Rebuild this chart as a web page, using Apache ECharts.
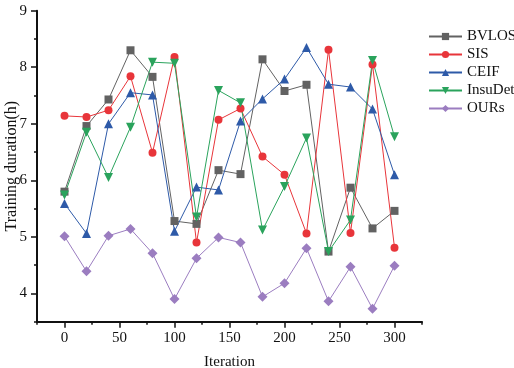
<!DOCTYPE html>
<html>
<head>
<meta charset="utf-8">
<script src="https://cdn.jsdelivr.net/npm/echarts@6/dist/echarts.min.js"></script>
<style>html,body{margin:0;padding:0;background:#fff}#c{width:514px;height:368px}</style>
</head>
<body>
<div id="c"></div>
<script>
const iterations = [0,20,40,60,80,100,120,140,160,180,200,220,240,260,280,300];
const BVLOS   = [5.80,6.96,7.43,8.30,7.83,5.28,5.23,6.18,6.11,8.14,7.58,7.69,4.74,5.87,5.15,5.46];
const SIS     = [7.14,7.12,7.24,7.84,6.49,8.18,4.90,7.07,7.27,6.42,6.10,5.06,8.31,5.07,8.05,4.81];
const CEIF    = [5.59,5.06,7.00,7.55,7.51,5.10,5.88,5.83,7.05,7.44,7.79,8.35,7.70,7.65,7.26,6.10];
const InsuDet = [5.74,6.85,6.05,6.94,8.09,8.07,5.35,7.59,7.37,5.12,5.89,6.75,4.74,5.30,8.12,6.77];
const OURs    = [5.01,4.39,5.02,5.14,4.71,3.90,4.62,4.99,4.90,3.94,4.18,4.80,3.86,4.47,3.73,4.49];
const xTicks = [0,50,100,150,200,250,300];
const yTicks = [4,5,6,7,8,9];

const font = 'Liberation Serif, Times New Roman, serif';
const pairs = arr => arr.map((v,i)=>[iterations[i], v]);
function mk(name, data, color, symbol, size, rot){
  return {name, type:'line', data: pairs(data), symbol, symbolSize:size, symbolRotate: rot||0,
    lineStyle:{width:1, color}, itemStyle:{color}, emphasis:{disabled:true}};
}
const chart = echarts.init(document.getElementById('c'), null, {renderer:'canvas'});
chart.setOption({
  animation:false,
  textStyle:{fontFamily:font},
  grid:{left:37, right:92, top:10.7, bottom:46.3, containLabel:false, outerBoundsMode:'none'},
  legend:{orient:'vertical', left:428, top:29, padding:0, itemWidth:33, itemHeight:9, itemGap:3,
    textStyle:{fontFamily:font, fontSize:15, color:'#111', lineHeight:14},
    data:['BVLOS','SIS','CEIF','InsuDet','OURs']},
  xAxis:[
    {type:'value', min:-25, max:325, interval:25, position:'bottom',
     axisLine:{show:true, onZero:false, lineStyle:{color:'#111', width:2}},
     axisTick:{show:true, length:3, lineStyle:{color:'#111', width:1.5}},
     axisLabel:{show:false}, splitLine:{show:false},
     name:'Iteration', nameLocation:'middle', nameGap:33,
     nameTextStyle:{fontFamily:font, fontSize:15, color:'#111'}},
    {type:'value', min:-25, max:325, position:'bottom',
     axisLine:{show:false, onZero:false},
     axisTick:{show:true, length:6, customValues:xTicks, lineStyle:{color:'#111', width:1.5}},
     axisLabel:{show:true, customValues:xTicks, margin:9, fontFamily:font, fontSize:15, color:'#111'},
     splitLine:{show:false}}
  ],
  yAxis:[
    {type:'value', min:3.5, max:9, interval:0.5, position:'left',
     axisLine:{show:true, onZero:false, lineStyle:{color:'#111', width:2}},
     axisTick:{show:true, length:3, lineStyle:{color:'#111', width:1.5}},
     axisLabel:{show:false}, splitLine:{show:false},
     name:'Training duration(h)', nameLocation:'middle', nameGap:17, nameRotate:90,
     nameTextStyle:{fontFamily:font, fontSize:16, color:'#111'}},
    {type:'value', min:3.5, max:9, position:'left',
     axisLine:{show:false, onZero:false},
     axisTick:{show:true, length:6, customValues:yTicks, lineStyle:{color:'#111', width:1.5}},
     axisLabel:{show:true, customValues:yTicks, margin:10, fontFamily:font, fontSize:15, color:'#111'},
     splitLine:{show:false}}
  ],
  series:[
    mk('BVLOS', BVLOS, '#626262', 'rect', 8),
    mk('SIS', SIS, '#e8353a', 'circle', 8),
    mk('CEIF', CEIF, '#2e5aa8', 'triangle', 9),
    mk('InsuDet', InsuDet, '#2aa35c', 'triangle', 9, 180),
    mk('OURs', OURs, '#9b7dc0', 'diamond', 10)
  ]
});
</script>
</body>
</html>
